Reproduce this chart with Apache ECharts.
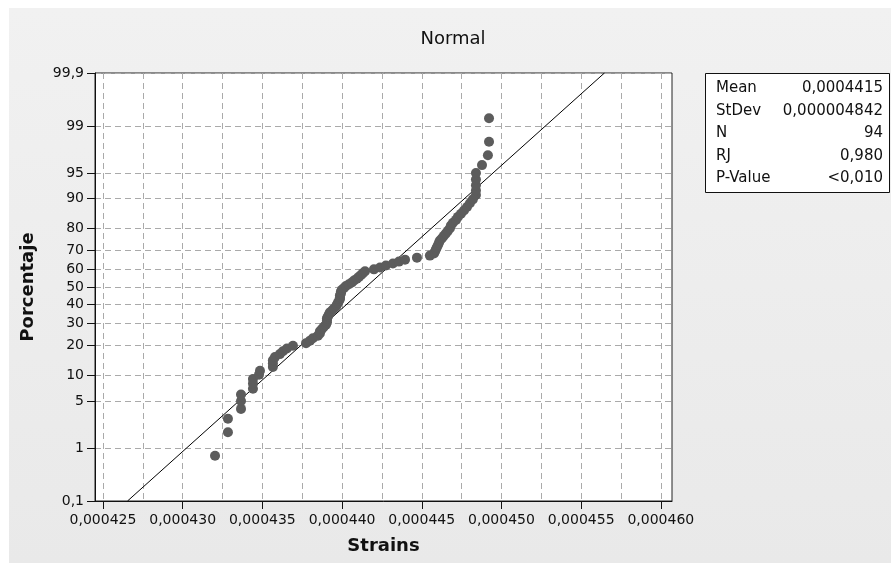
<!DOCTYPE html>
<html>
<head>
<meta charset="utf-8">
<script src="https://cdn.jsdelivr.net/npm/echarts@6/dist/echarts.min.js"></script>
<style>
  html, body { margin: 0; padding: 0; background: #fff; }
  #chart { width: 891px; height: 565px; }
</style>
</head>
<body>
<div id="chart"></div>
<script>
// strain values sorted
var strains = [
  0.00043203, 0.00043284, 0.00043284, 0.00043366, 0.00043366, 0.00043366, 0.00043441, 0.00043441,
  0.00043441, 0.00043479, 0.00043485, 0.00043566, 0.00043566, 0.00043566, 0.00043579, 0.00043610,
  0.00043629, 0.00043654, 0.00043692, 0.00043774, 0.00043799, 0.00043817, 0.00043849, 0.00043861,
  0.00043861, 0.00043874, 0.00043886, 0.00043899, 0.00043905, 0.00043905, 0.00043905, 0.00043912,
  0.00043918, 0.00043924, 0.00043937, 0.00043949, 0.00043962, 0.00043968, 0.00043974, 0.00043981,
  0.00043987, 0.00043987, 0.00043987, 0.00043993, 0.00043993, 0.00043999, 0.00044012, 0.00044024,
  0.00044043, 0.00044062, 0.00044075, 0.00044093, 0.00044106, 0.00044119, 0.00044131, 0.00044144,
  0.00044200, 0.00044238, 0.00044275, 0.00044319, 0.00044357, 0.00044395, 0.00044470, 0.00044551,
  0.00044577, 0.00044583, 0.00044589, 0.00044595, 0.00044602, 0.00044608, 0.00044614, 0.00044627,
  0.00044639, 0.00044652, 0.00044664, 0.00044677, 0.00044683, 0.00044696, 0.00044715, 0.00044727,
  0.00044746, 0.00044765, 0.00044784, 0.00044802, 0.00044821, 0.00044840, 0.00044840, 0.00044840,
  0.00044840, 0.00044840, 0.00044878, 0.00044915, 0.00044922, 0.00044922
];
// plotted percentages
var percents = [
  0.74, 1.80, 2.86, 3.92, 4.98, 6.04, 7.10, 8.16, 9.22, 10.28, 11.33, 12.39, 13.45, 14.51, 15.57, 16.63,
  17.69, 18.75, 19.81, 20.87, 21.93, 22.99, 24.05, 25.11, 26.17, 27.22, 28.28, 29.34, 30.40, 31.46, 32.52, 33.58,
  34.64, 35.70, 36.76, 37.82, 38.88, 39.94, 41.00, 42.06, 43.11, 44.17, 45.23, 46.29, 47.35, 48.41, 49.47, 50.53,
  51.59, 52.65, 53.71, 54.77, 55.83, 56.89, 57.94, 59.00, 60.06, 61.12, 62.18, 63.24, 64.30, 65.36, 66.42, 67.48,
  68.54, 69.60, 70.66, 71.72, 72.78, 73.83, 74.89, 75.95, 77.01, 78.07, 79.13, 80.19, 81.25, 82.31, 83.37, 84.43,
  85.49, 86.55, 87.61, 88.67, 89.72, 90.78, 91.84, 92.90, 93.96, 95.02, 96.08, 97.14, 98.20, 99.26
];
// fitted line end points [strain, percent]
var fitLine = [[0.00042654, 0.1], [0.00045646, 99.9]];

var yTickPct = [0.1, 1, 5, 10, 20, 30, 40, 50, 60, 70, 80, 90, 95, 99, 99.9];
var xTicks = [0.000425, 0.000430, 0.000435, 0.000440, 0.000445, 0.000450, 0.000455, 0.000460];
var xGrid = [0.000425, 0.0004275, 0.000430, 0.0004325, 0.000435, 0.0004375, 0.000440, 0.0004425,
             0.000445, 0.0004475, 0.000450, 0.0004525, 0.000455, 0.0004575, 0.000460];

var statNames = ['Mean', 'StDev', 'N', 'RJ', 'P-Value'];
var statValues = ['0,0004415', '0,000004842', '94', '0,980', '<0,010'];

// inverse normal cdf (Acklam) for the probability scale
function probit(p) {
    var a = [-3.969683028665376e+01, 2.209460984245205e+02, -2.759285104469687e+02, 1.383577518672690e+02, -3.066479806614716e+01, 2.506628277459239e+00];
    var b = [-5.447609879822406e+01, 1.615858368580409e+02, -1.556989798598866e+02, 6.680131188771972e+01, -1.328068155288572e+01];
    var c = [-7.784894002430293e-03, -3.223964580411365e-01, -2.400758277161838e+00, -2.549732539343734e+00, 4.374664141464968e+00, 2.938163982698783e+00];
    var d = [7.784695709041462e-03, 3.224671290700398e-01, 2.445134137142996e+00, 3.754408661907416e+00];
    var plow = 0.02425, q, r;
    if (p < plow) {
        q = Math.sqrt(-2 * Math.log(p));
        return (((((c[0]*q+c[1])*q+c[2])*q+c[3])*q+c[4])*q+c[5]) / ((((d[0]*q+d[1])*q+d[2])*q+d[3])*q+1);
    }
    if (p > 1 - plow) {
        q = Math.sqrt(-2 * Math.log(1 - p));
        return -(((((c[0]*q+c[1])*q+c[2])*q+c[3])*q+c[4])*q+c[5]) / ((((d[0]*q+d[1])*q+d[2])*q+d[3])*q+1);
    }
    q = p - 0.5; r = q * q;
    return (((((a[0]*r+a[1])*r+a[2])*r+a[3])*r+a[4])*r+a[5])*q / (((((b[0]*r+b[1])*r+b[2])*r+b[3])*r+b[4])*r+1);
}
function z(pct) { return probit(pct / 100); }

var yTickZ = yTickPct.map(z);
var yMin = z(0.1), yMax = -yMin;
yTickZ[yTickZ.length - 1] = yMax;

var points = strains.map(function (s, i) { return [s, z(percents[i])]; });
var linePts = fitLine.map(function (p) { return [p[0], z(p[1])]; });

var dom = document.getElementById('chart');
var myChart = echarts.init(dom);

var font = 'DejaVu Sans';
var gridStyle = { color: '#aaaaaa', width: 1, type: [6, 4] };

var statGraphics = [{
    type: 'rect', shape: { x: 705.5, y: 73.5, width: 184, height: 119 },
    style: { fill: '#fff', stroke: '#111', lineWidth: 1 }, z: 10
}];
statNames.forEach(function (n, i) {
    statGraphics.push({ type: 'text', left: 716, top: 81 + i * 22.5, z: 11,
        style: { text: n, font: '15px ' + font, fill: '#111' } });
    statGraphics.push({ type: 'text', right: 8, top: 81 + i * 22.5, z: 11,
        style: { text: statValues[i], font: '15px ' + font, fill: '#111', align: 'right' } });
});

option = {
    animation: false,
    backgroundColor: '#ffffff',
    title: {
        text: 'Normal', left: 448, top: 25, textAlign: 'center',
        textStyle: { fontFamily: font, fontSize: 18, fontWeight: 'normal', color: '#111' }
    },
    graphic: [{
        type: 'rect', shape: { x: 9, y: 8, width: 882, height: 555 }, z: -10, silent: true,
        style: { fill: new echarts.graphic.LinearGradient(0, 0, 0, 1, [
            { offset: 0, color: '#f1f1f1' }, { offset: 1, color: '#e9e9e9' }]) }
    }].concat(statGraphics),
    grid: {
        left: 95, top: 73, width: 577, height: 428,
        show: true, backgroundColor: '#ffffff', borderColor: '#222', borderWidth: 1
    },
    xAxis: [{
        type: 'value', min: 0.0004245, max: 0.0004607,
        name: 'Strains', nameLocation: 'middle', nameGap: 36,
        nameTextStyle: { fontFamily: font, fontSize: 18, fontWeight: 'bold', color: '#111' },
        axisLine: { onZero: false, lineStyle: { color: '#111' } },
        axisTick: { length: 8, lineStyle: { color: '#111' }, customValues: xTicks },
        axisLabel: {
            customValues: xTicks, margin: 12,
            fontFamily: font, fontSize: 14, color: '#111',
            formatter: function (v) { return v.toFixed(6).replace('.', ','); }
        },
        splitLine: { show: false }
    }, {
        type: 'value', min: 0.0004245, max: 0.0004607, position: 'bottom',
        axisLine: { show: false, onZero: false },
        axisTick: { show: false, customValues: xGrid },
        axisLabel: { show: false },
        splitLine: { show: true, lineStyle: gridStyle }
    }],
    yAxis: [{
        type: 'value', min: yMin, max: yMax,
        name: 'Porcentaje', nameLocation: 'middle', nameGap: 58, nameRotate: 90,
        nameTextStyle: { fontFamily: font, fontSize: 18, fontWeight: 'bold', color: '#111' },
        axisLine: { show: true, onZero: false, lineStyle: { color: '#111' } },
        axisTick: { show: true, length: 8, lineStyle: { color: '#111' }, customValues: yTickZ },
        axisLabel: {
            customValues: yTickZ, margin: 11,
            fontFamily: font, fontSize: 14, color: '#111',
            formatter: function (v) {
                var best = 0;
                for (var i = 1; i < yTickZ.length; i++) {
                    if (Math.abs(yTickZ[i] - v) < Math.abs(yTickZ[best] - v)) best = i;
                }
                return String(yTickPct[best]).replace('.', ',');
            }
        },
        splitLine: { show: true, lineStyle: gridStyle }
    }],
    series: [{
        name: 'Fit', type: 'line', data: linePts, showSymbol: false,
        lineStyle: { color: '#000', width: 1 }, z: 3
    }, {
        name: 'Strains', type: 'scatter', data: points, symbolSize: 10,
        itemStyle: { color: '#5c5c5c', opacity: 1 }, z: 4
    }]
};
if (option && typeof option === "object") {
    myChart.setOption(option, true);
}
</script>
</body>
</html>
